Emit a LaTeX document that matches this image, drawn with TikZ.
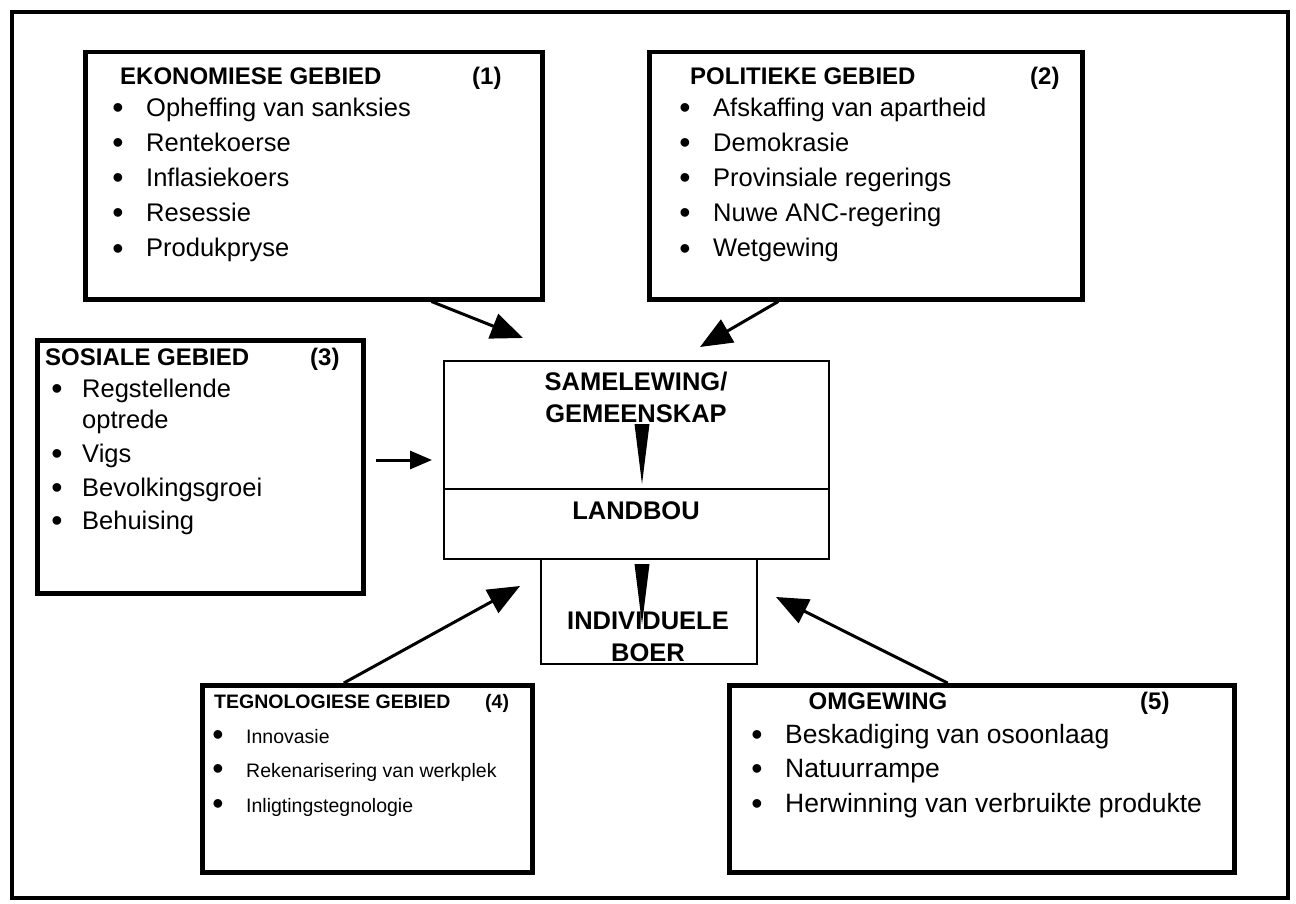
\documentclass[tikz,border=0pt]{standalone}
\usepackage{fontspec}
\setmainfont{Liberation Sans}
\usetikzlibrary{arrows.meta,calc}
\begin{document}
\begin{tikzpicture}[x=1pt,y=-1pt,
  frame/.style={draw, line width=4pt},
  gbox/.style={draw, line width=4.5pt, anchor=north west, inner sep=0pt},
  cbox/.style={draw, line width=2pt, anchor=north west, inner sep=0pt},
  head/.style={anchor=base west, inner sep=0pt, font=\fontsize{24}{28}\selectfont\bfseries},
  item/.style={anchor=base west, inner sep=0pt, font=\fontsize{25.5}{29}\selectfont},
  bigitem/.style={anchor=base west, inner sep=0pt, font=\fontsize{26.5}{30}\selectfont},
  smallitem/.style={anchor=base west, inner sep=0pt, font=\fontsize{19.5}{23}\selectfont},
  smallhead/.style={anchor=base west, inner sep=0pt, font=\fontsize{19.5}{23}\selectfont\bfseries},
  bul/.style={anchor=base, inner sep=0pt, font=\fontsize{32}{34}\selectfont},
  ctext/.style={anchor=base, inner sep=0pt, font=\fontsize{25.5}{30}\selectfont\bfseries},
  arr/.style={line width=3pt, -{Triangle[length=32pt,width=26pt]}},
  sarr/.style={line width=3pt, -{Triangle[length=22pt,width=18pt]}},
  narrow/.style={line width=0pt, -{Triangle[length=60pt,width=15pt]}}
]
\useasboundingbox (0,0) rectangle (1296,904);
\fill[white] (0,0) rectangle (1296,904);
\node[frame, anchor=north west, inner sep=0pt, minimum width=1276pt, minimum height=886pt] (outer) at (10,10) {};

% Box 1
\node[gbox, minimum width=457pt, minimum height=247pt] (eko) at (83,50) {};
\node[head] (ekoh) at (120,85) {EKONOMIESE GEBIED};
\node[head] (ekon) at (472,85) {(1)};
\foreach \t [count=\i] in {Opheffing van sanksies, Rentekoerse, Inflasiekoers, Resessie, Produkpryse}{
  \node[bul] (ekob\i) at (118,{119+35*(\i-1)}) {•};
  \node[item] (ekoi\i) at (146,{117+35*(\i-1)}) {\t};
}

% Box 2
\node[gbox, minimum width=433pt, minimum height=247pt] (pol) at (647,50) {};
\node[head] (polh) at (690,85) {POLITIEKE GEBIED};
\node[head] (poln) at (1030,85) {(2)};
\foreach \t [count=\i] in {Afskaffing van apartheid, Demokrasie, Provinsiale regerings, Nuwe ANC-regering, Wetgewing}{
  \node[bul] (polb\i) at (685,{119+35*(\i-1)}) {•};
  \node[item] (poli\i) at (713,{117+35*(\i-1)}) {\t};
}

% Box 3
\node[gbox, minimum width=326pt, minimum height=253pt] (sos) at (35,338) {};
\node[head] (sosh) at (45,365) {SOSIALE GEBIED};
\node[head] (sosn) at (310,365) {(3)};
\node[bul] (sosb1) at (57,399) {•};
\node[item] (sosi1) at (82,397) {Regstellende};
\node[item] (sosi1b) at (82,428) {optrede};
\node[bul] (sosb2) at (57,464) {•};
\node[item] (sosi2) at (82,462) {Vigs};
\node[bul] (sosb3) at (57,498) {•};
\node[item] (sosi3) at (82,496) {Bevolkingsgroei};
\node[bul] (sosb4) at (57,531) {•};
\node[item] (sosi4) at (82,529) {Behuising};

% Central box
\node[cbox, minimum width=385pt, minimum height=198pt] (ctr) at (443,360) {};
\coordinate (divy) at (0,489);
\draw[line width=2pt] (ctr.west |- divy) -- (ctr.east |- divy);
\node[ctext] (sam1) at (636,390) {SAMELEWING/};
\node[ctext] (sam2) at (636,422) {GEMEENSKAP};
\node[ctext] (land) at (636,519) {LANDBOU};

% Individuele boer
\node[cbox, minimum width=216pt, minimum height=105pt] (ind) at (540,558) {};
\node[ctext] (ind1) at (648,629) {INDIVIDUELE};
\node[ctext] (ind2) at (648,661) {BOER};

% Box 4
\node[gbox, minimum width=330pt, minimum height=187pt] (teg) at (200,683) {};
\node[smallhead] (tegh) at (214,708) {TEGNOLOGIESE GEBIED};
\node[smallhead] (tegn) at (485,708) {(4)};
\foreach \t [count=\i] in {Innovasie, Rekenarisering van werkplek, Inligtingstegnologie}{
  \node[bul] (tegb\i) at (218,{745+34.5*(\i-1)}) {•};
  \node[smallitem] (tegi\i) at (246,{743+34.5*(\i-1)}) {\t};
}

% Box 5
\node[gbox, minimum width=505pt, minimum height=187pt] (omg) at (727,683) {};
\node[head, anchor=base] (omgh) at (878,709) {OMGEWING};
\node[head] (omgn) at (1140,709) {(5)};
\foreach \t [count=\i] in {Beskadiging van osoonlaag, Natuurrampe, Herwinning van verbruikte produkte}{
  \node[bul] (omgb\i) at (757,{745+34.5*(\i-1)}) {•};
  \node[bigitem] (omgi\i) at (785,{743+34.5*(\i-1)}) {\t};
}

% Arrows
\coordinate (t1) at (523,338);
\coordinate (t2) at (700,347);
\coordinate (t3) at (432,460);
\coordinate (t4) at (520,586);
\coordinate (t5) at (776,597);
\draw[arr] ($(eko.south west)!0.755!(eko.south east)$) -- (t1);
\draw[arr] ($(pol.south west)!0.30!(pol.south east)$) -- (t2);
\draw[sarr] (sos.east |- t3) ++(10,0) -- (t3);
\draw[arr] ($(teg.north west)!0.43!(teg.north east)$) -- (t4);
\draw[arr] ($(omg.north west)!0.433!(omg.north east)$) -- (t5);

% narrow internal arrows
\coordinate (n1) at (642,484);
\coordinate (n2) at (642,624);
\draw[narrow] (642,424) -- (n1);
\draw[narrow] (642,565) -- (n2);
\end{tikzpicture}
\end{document}
